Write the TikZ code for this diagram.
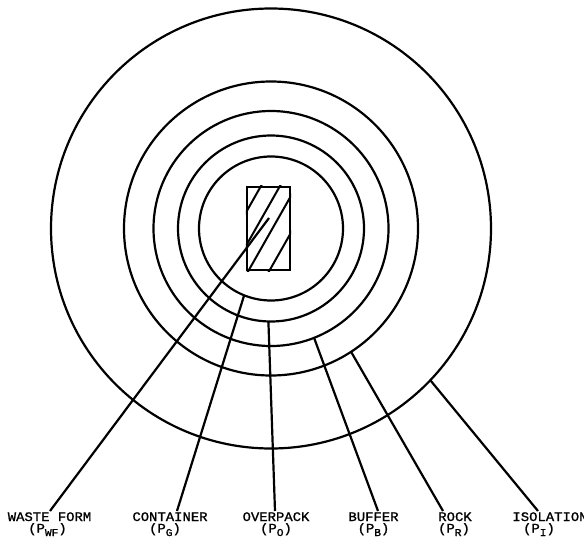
\documentclass[tikz,border=0pt]{standalone}
\usepackage{fontspec}
\newfontfamily\lblfont[FakeStretch=1.07,FakeBold=1.2]{Liberation Mono}
\newcommand\lsub[1]{\raisebox{-3.5pt}{\fontsize{10.5}{10.5}\selectfont #1}}
\begin{document}
\begin{tikzpicture}[x=1pt,y=-1pt,line width=2.2pt,
  ring/.style={draw,line width=2.2pt},
  lead/.style={draw,line width=2.2pt},
  hatch/.style={draw,line width=2pt},
  lbl/.style={font=\lblfont\fontsize{13}{11.5}\selectfont,inner sep=0pt,anchor=base,align=center}]
\useasboundingbox (0,0) rectangle (584,554);
\fill[white] (0,0) rectangle (584,554);
\coordinate (c) at (271,228.5);
% rings
\foreach \r in {72,93,117.5,147,220} \draw[ring] (c) circle (\r pt);
% waste form block
\node[draw,line width=2.2pt,minimum width=43pt,minimum height=83pt,inner sep=0pt] (wf) at (268.5,228.5) {};
\begin{scope}
  \clip (wf.south west) rectangle (wf.north east);
  \foreach \k in {366.7,385.7,402.3,423.2}
    \draw[hatch] (\k-102.3,180) -- (\k-159.1,280);
\end{scope}
% connector start points
\coordinate (sWF) at (269,218);
\path (c) ++(111.9:72) coordinate (sG);
\path (c) ++(91.6:93) coordinate (sO);
\path (c) ++(68.5:117.5) coordinate (sB);
\path (c) ++(57:147) coordinate (sR);
\path (c) ++(43.6:220) coordinate (sI);
% connector end points
\coordinate (eWF) at (50,511);
\coordinate (eG) at (177,511);
\coordinate (eO) at (275,511);
\coordinate (eB) at (378,511);
\coordinate (eR) at (443,511);
\coordinate (eI) at (538,511);
\foreach \n in {WF,G,O,B,R,I} \draw[lead] (s\n) -- (e\n);
% labels
\node[lbl] (tWF) at (49.5,532.5) {WASTE FORM\\(P\lsub{WF})\hspace*{4pt}};
\node[lbl] (tG) at (170,532.5) {CONTAINER\\(P\lsub{G})\hspace*{10pt}};
\node[lbl] (tO) at (276,532.5) {OVERPACK\\(P\lsub{O})};
\node[lbl] (tB) at (373.5,532.5) {BUFFER\\(P\lsub{B})};
\node[lbl] (tR) at (455,532.5) {ROCK\\(P\lsub{R})\hspace*{2pt}};
\node[lbl] (tI) at (550,532.5) {ISOLATION\\(P\lsub{I})\hspace*{22pt}};
\end{tikzpicture}
\end{document}
